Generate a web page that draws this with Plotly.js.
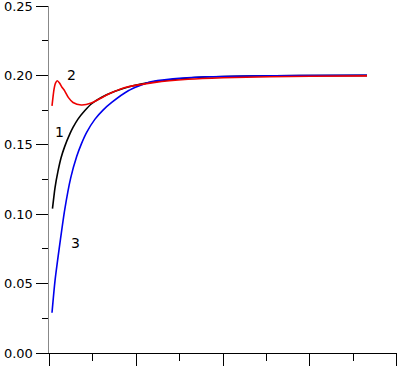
<!DOCTYPE html>
<html>
<head>
<meta charset="utf-8">
<script src="https://cdn.plot.ly/plotly-3.0.1.min.js"></script>
<style>html,body{margin:0;padding:0;background:#fff;}#chart{width:398px;height:366px;}</style>
</head>
<body>
<div id="chart"></div>
<script>
// Curve 1 (black)
const x1 = [0.040, 0.069, 0.1034, 0.138, 0.180, 0.241, 0.276, 0.333, 0.410, 0.486, 0.601, 0.759, 0.931, 1.218, 1.506, 1.85, 2.31, 2.885, 3.655];
const y1 = [0.104, 0.119, 0.131, 0.1405, 0.1487, 0.158, 0.1625, 0.1685, 0.1745, 0.1794, 0.1841, 0.1885, 0.1920, 0.1955, 0.1976, 0.1990, 0.1996, 0.1999, 0.2000];
// Curve 2 (red)
const x2 = [0.0345, 0.0575, 0.0747, 0.0954, 0.1207, 0.149, 0.180, 0.224, 0.276, 0.371, 0.486, 0.621, 0.730, 0.874, 1.218, 1.598, 2.0, 2.54, 3.0, 3.655];
const y2 = [0.178, 0.190, 0.1945, 0.1961, 0.1945, 0.1915, 0.1889, 0.1840, 0.1805, 0.1787, 0.1801, 0.1845, 0.1878, 0.1913, 0.1950, 0.1972, 0.1983, 0.1990, 0.1994, 0.1997];
// Curve 3 (blue)
const x3 = [0.0345, 0.069, 0.132, 0.180, 0.249, 0.318, 0.371, 0.433, 0.529, 0.621, 0.721, 0.911, 1.141, 1.425, 1.816, 2.31, 2.885, 3.655];
const y3 = [0.029, 0.052, 0.082, 0.103, 0.126, 0.1415, 0.1505, 0.159, 0.1685, 0.175, 0.1805, 0.1889, 0.1949, 0.1975, 0.1990, 0.1996, 0.1999, 0.2000];

const labelText = ["1", "2", "3"];
const labelX = [0.124, 0.262, 0.308];
const labelY = [0.1594, 0.2003, 0.079];

const traces = [
  {x: x1, y: y1, mode: 'lines', line: {color: '#000000', width: 1.6, shape: 'spline', smoothing: 0.6}},
  {x: x3, y: y3, mode: 'lines', line: {color: '#0000ee', width: 1.6, shape: 'spline', smoothing: 0.6}},
  {x: x2, y: y2, mode: 'lines', line: {color: '#ee0000', width: 1.6, shape: 'spline', smoothing: 0.6}}
];

const annotations = labelText.map((t, i) => ({
  x: labelX[i], y: labelY[i], xref: 'x', yref: 'y', text: t, showarrow: false,
  font: {family: 'DejaVu Sans', size: 14, color: '#000'}
}));

const layout = {
  width: 398, height: 366,
  margin: {l: 49, r: 1, t: 6, b: 13, pad: 0},
  paper_bgcolor: '#fff', plot_bgcolor: '#fff',
  showlegend: false,
  font: {family: 'DejaVu Sans', size: 13, color: '#000'},
  xaxis: {
    range: [0, 4.0001], showgrid: false, zeroline: false,
    showline: true, linecolor: '#000', linewidth: 1,
    ticks: 'outside', ticklen: 12, tickcolor: '#000', tickwidth: 1,
    dtick: 1, tick0: 0, showticklabels: false,
    minor: {dtick: 0.5, ticks: 'outside', ticklen: 7, tickcolor: '#000', showgrid: false}
  },
  yaxis: {
    range: [0, 0.25001], showgrid: false, zeroline: false,
    showline: true, linecolor: '#888', linewidth: 1.5,
    ticks: 'outside', ticklen: 12, tickcolor: '#000', tickwidth: 1,
    dtick: 0.05, tick0: 0, tickformat: '.2f', ticklabeloverflow: 'allow',
    tickfont: {family: 'DejaVu Sans', size: 13, color: '#000'},
    minor: {dtick: 0.025, ticks: 'outside', ticklen: 6, tickcolor: '#000', showgrid: false}
  },
  annotations: annotations
};

Plotly.newPlot('chart', traces, layout, {staticPlot: true, displayModeBar: false});
</script>
</body>
</html>
